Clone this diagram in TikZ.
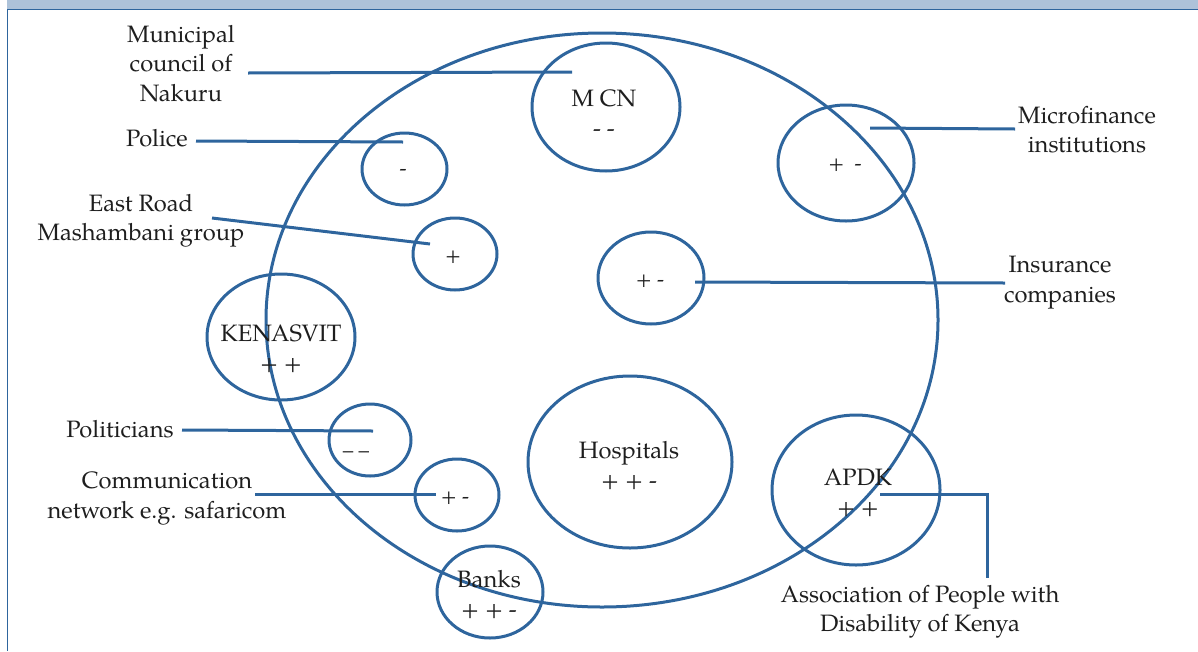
\documentclass[tikz,border=0pt]{standalone}
\usepackage{fontspec}
\setmainfont{TeX Gyre Pagella}
\usetikzlibrary{shapes.geometric}
\definecolor{lineblue}{RGB}{46,101,157}
\definecolor{headfill}{RGB}{173,194,217}
\definecolor{txt}{RGB}{30,30,30}
\begin{document}
\begin{tikzpicture}[x=1pt,y=-1pt,
  ring/.style={draw=lineblue,line width=3pt,ellipse,inner sep=0pt},
  lbl/.style={text=txt,align=center,font=\fontsize{23.7}{29.5}\selectfont,inner sep=0pt},
  sgn/.style={text=txt,font=\fontsize{21}{25}\selectfont,inner sep=0pt},
  conn/.style={draw=lineblue,line width=3pt}]
\useasboundingbox (0,0) rectangle (1198,651);
% header bar and frame
\fill[headfill] (7,0) rectangle (1198,9);
\draw[lineblue,line width=1.5pt] (7,9.5) -- (1198,9.5);
\draw[lineblue,line width=1pt] (7.5,9) -- (7.5,651);
% big ellipse
\node[ring,minimum width=672pt,minimum height=574pt] (big) at (602,320) {};
% small ellipses
\node[ring,minimum width=148pt,minimum height=128pt] (mcn) at (606,107) {};
\node[ring,minimum width=85pt,minimum height=72pt] (police) at (404.5,169) {};
\node[ring,minimum width=136pt,minimum height=116pt] (micro) at (846,163) {};
\node[ring,minimum width=84pt,minimum height=72pt] (east) at (455,254) {};
\node[ring,minimum width=106pt,minimum height=92pt] (ins) at (651,278) {};
\node[ring,minimum width=148pt,minimum height=126pt] (ken) at (281,337) {};
\node[ring,minimum width=82pt,minimum height=72pt] (pol) at (370,440) {};
\node[ring,minimum width=204pt,minimum height=172pt] (hosp) at (630,462) {};
\node[ring,minimum width=168pt,minimum height=150pt] (apdk) at (856,490) {};
\node[ring,minimum width=84pt,minimum height=72pt] (comm) at (457,495) {};
\node[ring,minimum width=106pt,minimum height=92pt] (banks) at (490,592) {};
% texts
\node[lbl] (tMun) at (181,63.5) {Municipal\\council of\\Nakuru};
\node[lbl] (tPolice) at (157,138) {Police};
\node[lbl] (tEast) at (141,220.5) {East Road\\Mashambani group};
\node[lbl] (tKen) at (281,348.5) {KENASVIT\\+ +};
\node[lbl] (tPol) at (120,429) {Politicians};
\node[lbl] (tComm) at (167,498.5) {Communication\\network e.g. safaricom};
\node[lbl] (tMcn) at (604,113) {M CN\\- -};
\node[lbl] (tMicro) at (1087,129.5) {Microfinance\\institutions};
\node[lbl] (tIns) at (1060,282.5) {Insurance\\companies};
\node[lbl] (tHosp) at (629,465.5) {Hospitals\\+ + -};
\node[lbl] (tApdk) at (858,493) {APDK\\+ +};
\node[lbl] (tAssoc) at (920,611.5) {Association of People with\\Disability of Kenya};
\node[lbl] (tBanks) at (489,594.5) {Banks\\+ + -};
% signs
\node[sgn] (sPolice) at (403,172) {-};
\node[sgn] (sEast) at (453,257) {+};
\node[sgn] (sIns) at (650,281) {+ -};
\node[sgn] (sMicro) at (845,165) {+\enspace-};
\node[sgn] (sPol) at (356,455) {– –};
\node[sgn] (sComm) at (455,498) {+ -};
% connector ends
\coordinate (munA) at (248,73);   \coordinate (munB) at (572,72);
\coordinate (polA) at (196,141);  \coordinate (polB) at (403,142);
\coordinate (eastA) at (212,218); \coordinate (eastB) at (430,244);
\coordinate (micA) at (870,128);  \coordinate (micB) at (1015,129);
\coordinate (insA) at (695,282);  \coordinate (insB) at (1005,283);
\coordinate (potA) at (182,430);  \coordinate (potB) at (373,431);
\coordinate (comA) at (255,494);  \coordinate (comB) at (436,494);
\coordinate (apA) at (880,494);   \coordinate (apB) at (987,494);
\coordinate (apC) at (987,578);
\draw[conn] (munA) -- (munB);
\draw[conn] (polA) -- (polB);
\draw[conn] (eastA) -- (eastB);
\draw[conn] (micA) -- (micB);
\draw[conn] (insA) -- (insB);
\draw[conn] (potA) -- (potB);
\draw[conn] (comA) -- (comB);
\draw[conn] (apA) -- (apB) -- (apC);
\end{tikzpicture}
\end{document}
